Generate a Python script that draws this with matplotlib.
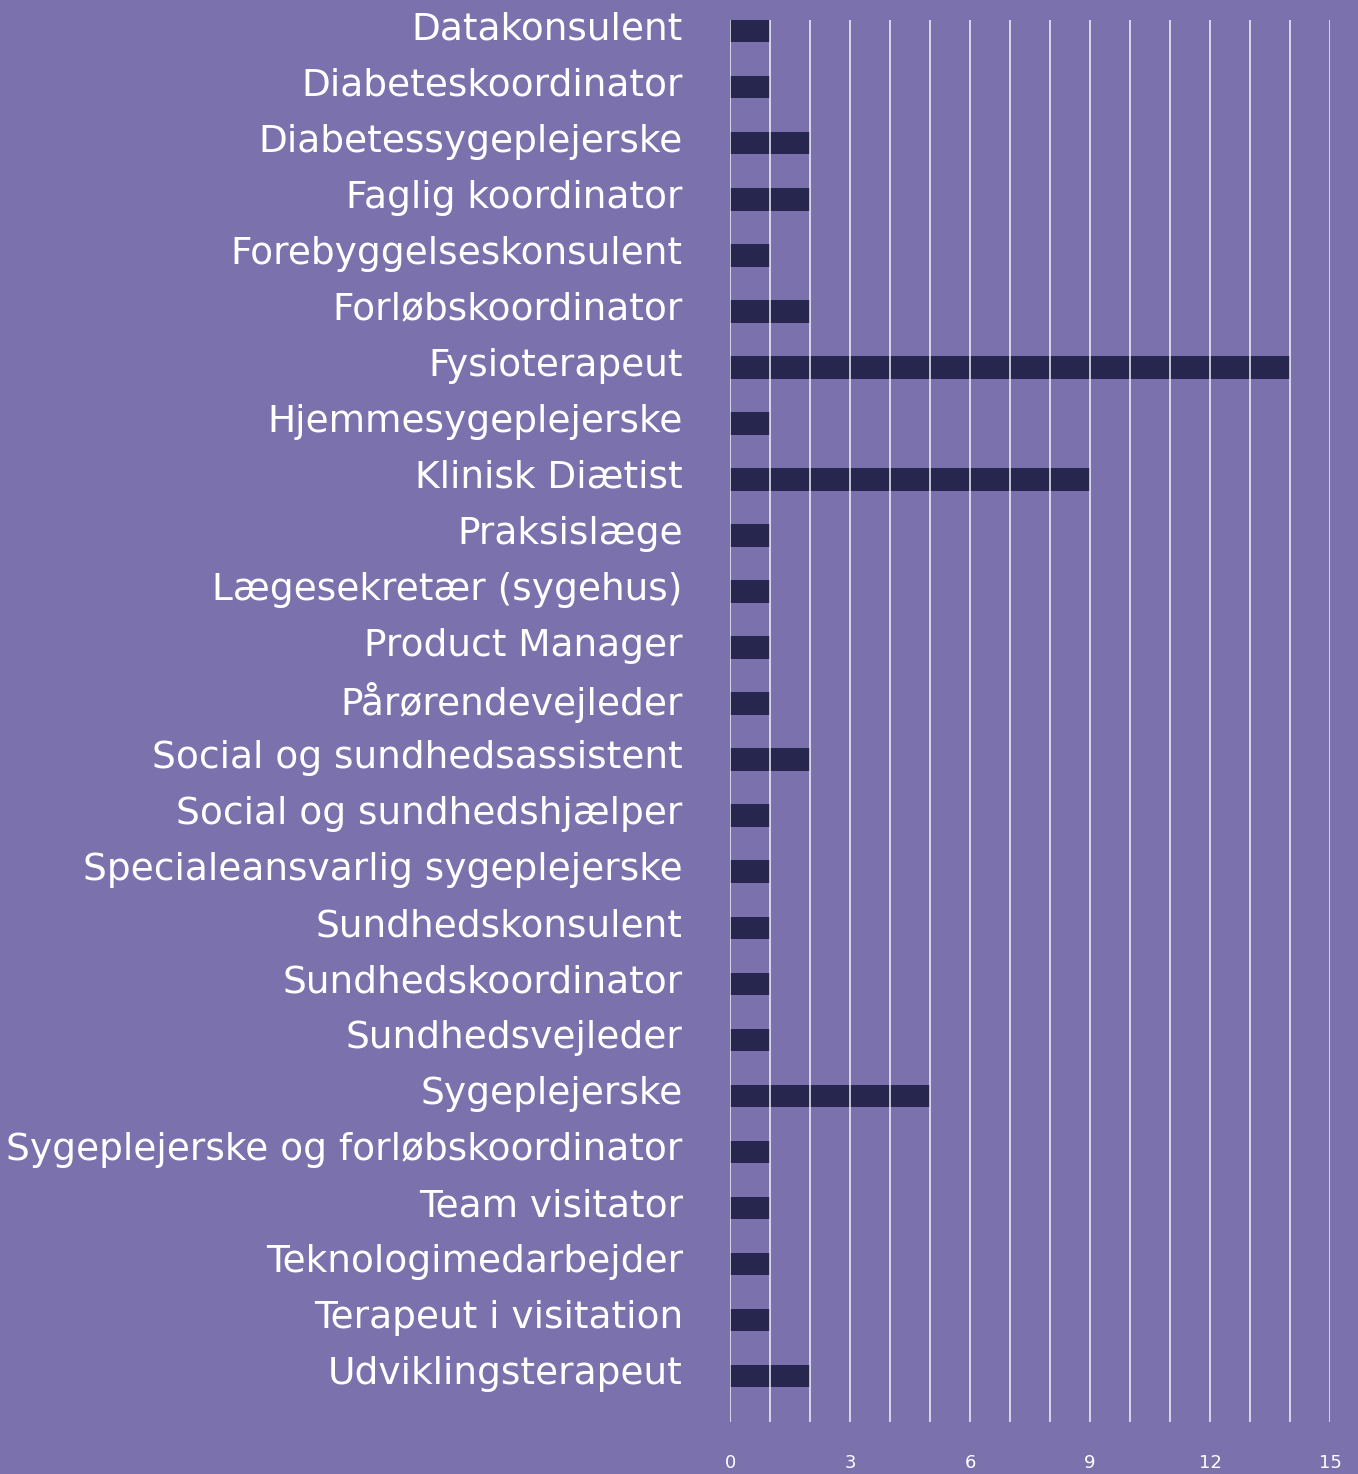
import matplotlib.pyplot as plt
import matplotlib.transforms as mtransforms

roles = ['Datakonsulent', 'Diabeteskoordinator', 'Diabetessygeplejerske',
         'Faglig koordinator', 'Forebyggelseskonsulent', 'Forløbskoordinator',
         'Fysioterapeut', 'Hjemmesygeplejerske', 'Klinisk Diætist',
         'Praksislæge', 'Lægesekretær (sygehus)', 'Product Manager',
         'Pårørendevejleder', 'Social og sundhedsassistent',
         'Social og sundhedshjælper', 'Specialeansvarlig sygeplejerske',
         'Sundhedskonsulent', 'Sundhedskoordinator', 'Sundhedsvejleder',
         'Sygeplejerske', 'Sygeplejerske og forløbskoordinator',
         'Team visitator', 'Teknologimedarbejder', 'Terapeut i visitation',
         'Udviklingsterapeut']
counts = [1, 1, 2, 2, 1, 2, 14, 1, 9, 1, 1, 1, 1, 2, 1, 1, 1, 1, 1, 5, 1, 1, 1, 1, 2]
xticks = [0, 3, 6, 9, 12, 15]

bg = '#7b72ad'
bar_col = '#27264f'

W, H = 1358, 1474
fig = plt.figure(figsize=(W / 100, H / 100), dpi=100, facecolor=bg)
ax = fig.add_axes([730 / W, 1 - 1422 / H, 600 / W, 1402 / H])
ax.set_facecolor(bg)

y = list(range(len(roles)))
ax.barh(y, counts, height=0.4, color=bar_col, zorder=2)

# gridlines on top of the bars, one per unit
for v in range(0, 16):
    ax.axvline(v, color='white', lw=1.1, alpha=0.9, zorder=3)

ax.set_xlim(0, 15)
ax.set_ylim(24 + 46 / 56, -0.2)
ax.set_yticks(y)
ax.set_yticklabels(roles, fontsize=27, color='white', family='DejaVu Sans')
ax.tick_params(axis='y', length=0, pad=34)
# labels sit a little above the bar centre
shift = mtransforms.ScaledTranslation(0, 4 / 72, fig.dpi_scale_trans)
for lab in ax.get_yticklabels():
    lab.set_transform(lab.get_transform() + shift)
ax.set_xticks(xticks)
ax.set_xticklabels([str(t) for t in xticks], fontsize=13, color='white',
                   family='DejaVu Sans')
ax.tick_params(axis='x', length=0, pad=23)
for s in ax.spines.values():
    s.set_visible(False)

fig.savefig('out.png', dpi=100, facecolor=bg)
